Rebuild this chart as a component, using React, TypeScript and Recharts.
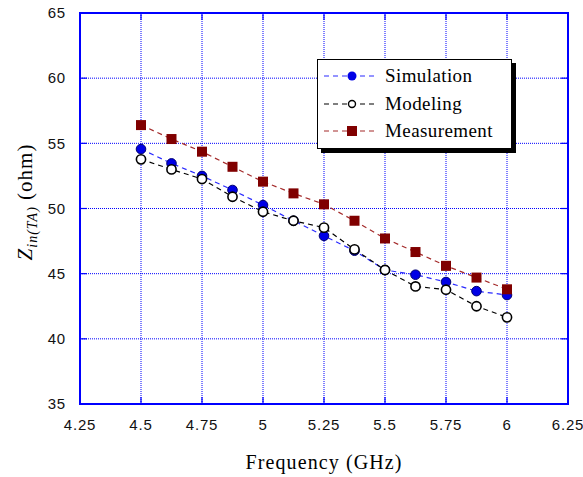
import React from 'react';
import { LineChart, Line, XAxis, YAxis, CartesianGrid, ReferenceArea, Legend } from 'recharts';

// ---- data ----
const frequencies = [4.5, 4.625, 4.75, 4.875, 5.0, 5.125, 5.25, 5.375, 5.5, 5.625, 5.75, 5.875, 6.0];
const simulation = [54.56, 53.46, 52.5, 51.42, 50.26, 49.06, 47.9, 46.76, 45.28, 44.92, 44.36, 43.66, 43.36];
const modeling = [53.77, 53.0, 52.26, 50.9, 49.75, 49.06, 48.53, 46.86, 45.28, 44.02, 43.77, 42.5, 41.65];
const measurement = [56.4, 55.33, 54.36, 53.2, 52.06, 51.16, 50.32, 49.06, 47.7, 46.66, 45.6, 44.7, 43.8];
const xTicks = [4.25, 4.5, 4.75, 5, 5.25, 5.5, 5.75, 6, 6.25];
const yTicks = [35, 40, 45, 50, 55, 60, 65];
const seriesNames = ['Simulation', 'Modeling', 'Measurement'];

const data = frequencies.map((f, i) => ({
  f,
  sim: simulation[i],
  mod: modeling[i],
  meas: measurement[i],
}));

// ---- layout ----
const W = 583;
const H = 477;
const PLOT_LEFT = 80;
const PLOT_RIGHT = 568;
const PLOT_TOP = 13;
const PLOT_BOTTOM = 404;
const BLUE = '#0000ff';
const TICK_LEN = 7;
const TICK_FONT = { fontFamily: 'Liberation Sans, Arial, sans-serif', fontSize: 15, letterSpacing: 0.8, fill: '#111' };
const SERIF = 'Liberation Serif, DejaVu Serif, Noto Serif, Times New Roman, serif';

const SIM_LINE = '#2a2aff';
const SIM_FILL = '#0000e6';
const MEAS_LINE = '#a42a2a';
const MEAS_FILL = '#800000';

const XTick = (props: any) => {
  const { x, y, payload } = props;
  return (
    <g>
      <line x1={x} x2={x} y1={PLOT_BOTTOM} y2={PLOT_BOTTOM - TICK_LEN} stroke={BLUE} strokeWidth={1.2} />
      <line x1={x} x2={x} y1={PLOT_TOP} y2={PLOT_TOP + TICK_LEN} stroke={BLUE} strokeWidth={1.2} />
      <text x={x} y={y} dy="0.71em" textAnchor="middle" {...TICK_FONT}>
        {payload.value}
      </text>
    </g>
  );
};

const YTick = (props: any) => {
  const { x, y, payload } = props;
  return (
    <g>
      <line x1={PLOT_LEFT} x2={PLOT_LEFT + TICK_LEN} y1={y} y2={y} stroke={BLUE} strokeWidth={1.2} />
      <line x1={PLOT_RIGHT} x2={PLOT_RIGHT - TICK_LEN} y1={y} y2={y} stroke={BLUE} strokeWidth={1.2} />
      <text x={x} y={y} dy="0.355em" textAnchor="end" {...TICK_FONT}>
        {payload.value}
      </text>
    </g>
  );
};

const SimDot = (p: any) => (
  <circle key={`s${p.index}`} cx={p.cx} cy={p.cy} r={4.8} fill={SIM_FILL} stroke="#000070" strokeWidth={1} />
);
const ModDot = (p: any) => (
  <circle key={`m${p.index}`} cx={p.cx} cy={p.cy} r={4.6} fill="#ffffff" stroke="#000" strokeWidth={1.6} />
);
const MeasDot = (p: any) => (
  <rect key={`r${p.index}`} x={p.cx - 5} y={p.cy - 5} width={10} height={10} fill={MEAS_FILL} />
);

const XTitle = () => (
  <text
    x={(PLOT_LEFT + PLOT_RIGHT) / 2}
    y={469}
    textAnchor="middle"
    style={{ fontFamily: SERIF }}
    fontSize={20}
    letterSpacing={1.1}
    fill="#000"
  >
    Frequency (GHz)
  </text>
);

const YTitle = () => {
  const cx = 32;
  const cy = 202;
  return (
    <text
      x={cx}
      y={cy}
      transform={`rotate(-90, ${cx}, ${cy})`}
      textAnchor="middle"
      style={{ fontFamily: SERIF }}
      fontSize={21}
      letterSpacing={1}
      fill="#000"
    >
      <tspan fontStyle="italic">Z</tspan>
      <tspan fontStyle="italic" fontSize={14} dy={5}>in(TA)</tspan>
      <tspan dy={-5}> (ohm)</tspan>
    </text>
  );
};

const legendItems = [
  { name: seriesNames[0], line: SIM_LINE, kind: 'sim' },
  { name: seriesNames[1], line: '#000', kind: 'mod' },
  { name: seriesNames[2], line: MEAS_LINE, kind: 'meas' },
];

const LegendBox = () => (
  <div
    style={{
      position: 'relative',
      width: 195,
      height: 90,
      boxSizing: 'border-box',
      border: '1px solid #000',
      background: '#fff',
      boxShadow: '4px 4px 0 #000',
    }}
  >
    {legendItems.map((it, i) => (
      <div
        key={it.name}
        style={{
          position: 'absolute',
          left: 4,
          top: 6 + i * 27.5,
          height: 20,
          display: 'flex',
          alignItems: 'center',
          whiteSpace: 'nowrap',
        }}
      >
        <svg width={58} height={20} style={{ display: 'block' }}>
          <line x1={2} x2={56} y1={10} y2={10} stroke={it.line} strokeWidth={1.2} strokeDasharray="5 4" />
          {it.kind === 'sim' && <circle cx={30} cy={10} r={4.5} fill={SIM_FILL} />}
          {it.kind === 'mod' && <circle cx={30} cy={10} r={3.5} fill="#fff" stroke="#000" strokeWidth={1.4} />}
          {it.kind === 'meas' && <rect x={25} y={5} width={10} height={10} fill={MEAS_FILL} />}
        </svg>
        <span
          style={{
            marginLeft: 5,
            fontFamily: SERIF,
            fontSize: 19,
            letterSpacing: 0.4,
            color: '#000',
            lineHeight: '20px',
          }}
        >
          {it.name}
        </span>
      </div>
    ))}
  </div>
);

export default function App() {
  return (
    <div style={{ position: 'absolute', left: 0, top: 0, width: W, height: H, background: '#fff' }}>
      <LineChart
        width={W}
        height={H}
        data={data}
        margin={{ top: PLOT_TOP, right: W - PLOT_RIGHT, bottom: 0, left: 0 }}
      >
        <CartesianGrid stroke={BLUE} strokeDasharray="1 1" strokeWidth={1} />
        <XAxis
          dataKey="f"
          type="number"
          domain={[xTicks[0], xTicks[xTicks.length - 1]]}
          ticks={xTicks}
          height={H - PLOT_BOTTOM}
          axisLine={false}
          tickLine={false}
          tickSize={0}
          tickMargin={15}
          tick={<XTick />}
          interval={0}
          label={{ content: () => <XTitle /> }}
        />
        <YAxis
          type="number"
          domain={[yTicks[0], yTicks[yTicks.length - 1]]}
          ticks={yTicks}
          width={PLOT_LEFT}
          axisLine={false}
          tickLine={false}
          tickSize={0}
          tickMargin={14}
          tick={<YTick />}
          interval={0}
          label={{ content: () => <YTitle /> }}
        />
        <ReferenceArea
          x1={xTicks[0]}
          x2={xTicks[xTicks.length - 1]}
          y1={yTicks[0]}
          y2={yTicks[yTicks.length - 1]}
          fill="none"
          fillOpacity={0}
          stroke={BLUE}
          strokeWidth={2}
        />
        <Line
          dataKey="sim"
          name={seriesNames[0]}
          stroke={SIM_LINE}
          strokeWidth={1.2}
          strokeDasharray="5 4"
          dot={SimDot}
          activeDot={false}
          isAnimationActive={false}
        />
        <Line
          dataKey="mod"
          name={seriesNames[1]}
          stroke="#000"
          strokeWidth={1.2}
          strokeDasharray="5 4"
          dot={ModDot}
          activeDot={false}
          isAnimationActive={false}
        />
        <Line
          dataKey="meas"
          name={seriesNames[2]}
          stroke={MEAS_LINE}
          strokeWidth={1.2}
          strokeDasharray="5 4"
          dot={MeasDot}
          activeDot={false}
          isAnimationActive={false}
        />
        <Legend
          layout="vertical"
          align="center"
          verticalAlign="middle"
          content={() => <LegendBox />}
          wrapperStyle={{ position: 'absolute', left: 317, top: 59, width: 200, height: 96 }}
        />
      </LineChart>
    </div>
  );
}
